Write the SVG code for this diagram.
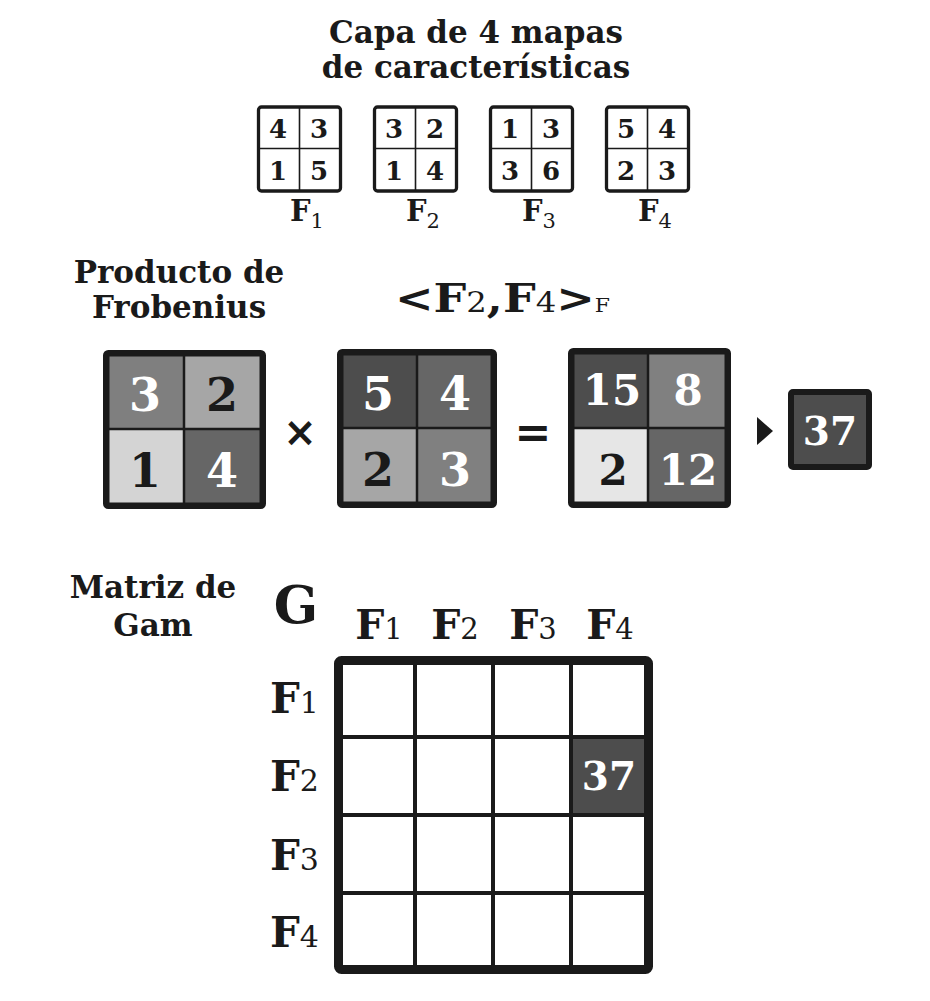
<svg xmlns="http://www.w3.org/2000/svg" width="930" height="1001" viewBox="0 0 930 1001">
<style>
text{font-family:"DejaVu Serif","Liberation Serif",serif;font-weight:bold;fill:#1a1a1a}
.t{font-size:31px;text-anchor:middle}
.h{font-size:31px;text-anchor:middle}
.sd{font-size:26px;text-anchor:middle}
.fl{font-size:29px}
.sub{font-weight:normal}
.big{font-size:46px;text-anchor:middle}
.mid{font-size:42px;text-anchor:middle}
.w{fill:#ffffff}
.gh{font-size:41px;text-anchor:middle}
.gr{font-size:42px}
.sbox{fill:#ffffff;stroke:#1a1a1a;stroke-width:3.3}
.sdiv{stroke:#1a1a1a;stroke-width:1.6}
.mbox{fill:none;stroke:#1a1a1a;stroke-width:6.5}
.mdiv{stroke:#1a1a1a;stroke-width:2.5}
.gdiv{stroke:#1a1a1a;stroke-width:4}
</style>

<g id="title">
<text class="t" x="476" y="43">Capa de 4 mapas</text>
<text class="t" x="476" y="78">de características</text>
</g>

<g id="map-F1">
<rect class="sbox" x="258.5" y="107" width="82" height="84" rx="3"/>
<line class="sdiv" x1="299.5" y1="107" x2="299.5" y2="191"/>
<line class="sdiv" x1="258.5" y1="148.5" x2="340.5" y2="148.5"/>
<text class="sd" x="278" y="138">4</text><text class="sd" x="319" y="138">3</text>
<text class="sd" x="278" y="180">1</text><text class="sd" x="319" y="180">5</text>
<text class="fl" x="290" y="221">F<tspan class="sub" font-size="21" dy="7">1</tspan></text>
</g>
<g id="map-F2">
<rect class="sbox" x="374.5" y="107" width="82" height="84" rx="3"/>
<line class="sdiv" x1="415.5" y1="107" x2="415.5" y2="191"/>
<line class="sdiv" x1="374.5" y1="148.5" x2="456.5" y2="148.5"/>
<text class="sd" x="394" y="138">3</text><text class="sd" x="435" y="138">2</text>
<text class="sd" x="394" y="180">1</text><text class="sd" x="435" y="180">4</text>
<text class="fl" x="406" y="221">F<tspan class="sub" font-size="21" dy="7">2</tspan></text>
</g>
<g id="map-F3">
<rect class="sbox" x="490.5" y="107" width="82" height="84" rx="3"/>
<line class="sdiv" x1="531.5" y1="107" x2="531.5" y2="191"/>
<line class="sdiv" x1="490.5" y1="148.5" x2="572.5" y2="148.5"/>
<text class="sd" x="510" y="138">1</text><text class="sd" x="551" y="138">3</text>
<text class="sd" x="510" y="180">3</text><text class="sd" x="551" y="180">6</text>
<text class="fl" x="522" y="221">F<tspan class="sub" font-size="21" dy="7">3</tspan></text>
</g>
<g id="map-F4">
<rect class="sbox" x="606.5" y="107" width="82" height="84" rx="3"/>
<line class="sdiv" x1="647.5" y1="107" x2="647.5" y2="191"/>
<line class="sdiv" x1="606.5" y1="148.5" x2="688.5" y2="148.5"/>
<text class="sd" x="626" y="138">5</text><text class="sd" x="667" y="138">4</text>
<text class="sd" x="626" y="180">2</text><text class="sd" x="667" y="180">3</text>
<text class="fl" x="638" y="221">F<tspan class="sub" font-size="21" dy="7">4</tspan></text>
</g>

<g id="frob-label">
<text class="h" x="179" y="283">Producto de</text>
<text class="h" x="179" y="318">Frobenius</text>
</g>

<g id="frob-formula">
<text x="395" y="312" font-size="40" textLength="215" lengthAdjust="spacingAndGlyphs">&lt;F<tspan class="sub" font-size="28">2</tspan>,F<tspan class="sub" font-size="28">4</tspan>&gt;<tspan font-size="19" class="sub">F</tspan></text>
</g>

<g id="matrix-F2">
<rect x="109" y="356" width="75" height="73" fill="#7f7f7f"/>
<rect x="184" y="356" width="79" height="73" fill="#a6a6a6"/>
<rect x="109" y="429" width="75" height="77" fill="#d4d4d4"/>
<rect x="184" y="429" width="79" height="77" fill="#666666"/>
<line class="mdiv" x1="184" y1="353" x2="184" y2="506"/>
<line class="mdiv" x1="106" y1="429" x2="263" y2="429"/>
<rect class="mbox" x="106.25" y="353.25" width="156.5" height="152.5" rx="2"/>
<text class="big w" x="145" y="411">3</text><text class="big" x="222" y="411">2</text>
<text class="big" x="145" y="487">1</text><text class="big w" x="222" y="487">4</text>
</g>

<g id="times-sign"><text x="300" y="446" font-size="40" text-anchor="middle" style="font-family:'DejaVu Sans',sans-serif">×</text></g>

<g id="matrix-F4">
<rect x="340" y="352" width="77" height="76" fill="#4d4d4d"/>
<rect x="417" y="352" width="77" height="76" fill="#666666"/>
<rect x="340" y="428" width="77" height="77" fill="#a6a6a6"/>
<rect x="417" y="428" width="77" height="77" fill="#808080"/>
<line class="mdiv" x1="417" y1="352" x2="417" y2="505"/>
<line class="mdiv" x1="340" y1="428" x2="494" y2="428"/>
<rect class="mbox" x="340.25" y="352.25" width="153.5" height="152.5" rx="2"/>
<text class="big w" x="378" y="410">5</text><text class="big w" x="455" y="410">4</text>
<text class="big" x="378" y="486">2</text><text class="big w" x="455" y="486">3</text>
</g>

<g id="equals-sign"><text x="533" y="447" font-size="44" text-anchor="middle" style="font-family:'DejaVu Sans',sans-serif">=</text></g>

<g id="matrix-product">
<rect x="571" y="351" width="77" height="77" fill="#4d4d4d"/>
<rect x="648" y="351" width="80" height="77" fill="#808080"/>
<rect x="571" y="428" width="77" height="77" fill="#e6e6e6"/>
<rect x="648" y="428" width="80" height="77" fill="#666666"/>
<line class="mdiv" x1="648" y1="351" x2="648" y2="505"/>
<line class="mdiv" x1="571" y1="428" x2="728" y2="428"/>
<rect class="mbox" x="571.25" y="351.25" width="156.5" height="153.5" rx="2"/>
<text class="mid w" x="612" y="405">15</text><text class="mid w" x="688" y="405">8</text>
<text class="mid" x="613" y="485">2</text><text class="mid w" x="688" y="485">12</text>
</g>

<g id="connectors">
<polygon points="757,417 773,431 757,445" fill="#1a1a1a"/>
</g>

<g id="sum-result">
<rect x="791" y="392" width="78" height="75" rx="2" fill="#4d4d4d" stroke="#1a1a1a" stroke-width="6"/>
<text class="w" x="830" y="445" font-size="39" text-anchor="middle">37</text>
</g>

<g id="gram-label">
<text class="h" x="153" y="598">Matriz de</text>
<text class="h" x="153" y="636">Gam</text>
</g>

<g id="gram-matrix">
<text x="296" y="623" font-size="52" text-anchor="middle">G</text>
<text class="gh" x="379" y="639">F<tspan class="sub" font-size="29">1</tspan></text>
<text class="gh" x="455" y="639">F<tspan class="sub" font-size="29">2</tspan></text>
<text class="gh" x="533" y="639">F<tspan class="sub" font-size="29">3</tspan></text>
<text class="gh" x="610" y="639">F<tspan class="sub" font-size="29">4</tspan></text>
<text class="gr" x="270" y="713">F<tspan class="sub" font-size="30">1</tspan></text>
<text class="gr" x="270" y="791">F<tspan class="sub" font-size="30">2</tspan></text>
<text class="gr" x="270" y="870">F<tspan class="sub" font-size="30">3</tspan></text>
<text class="gr" x="270" y="947">F<tspan class="sub" font-size="30">4</tspan></text>
<rect x="571" y="737" width="73" height="78" fill="#4d4d4d"/>
<line class="gdiv" x1="415" y1="660" x2="415" y2="970"/>
<line class="gdiv" x1="493" y1="660" x2="493" y2="970"/>
<line class="gdiv" x1="571" y1="660" x2="571" y2="970"/>
<line class="gdiv" x1="338" y1="737" x2="649" y2="737"/>
<line class="gdiv" x1="338" y1="815" x2="649" y2="815"/>
<line class="gdiv" x1="338" y1="893" x2="649" y2="893"/>
<rect x="338.5" y="660.5" width="310" height="309" rx="3" fill="none" stroke="#1a1a1a" stroke-width="9"/>
<text class="w" x="609" y="790" font-size="39" text-anchor="middle">37</text>
</g>
</svg>
